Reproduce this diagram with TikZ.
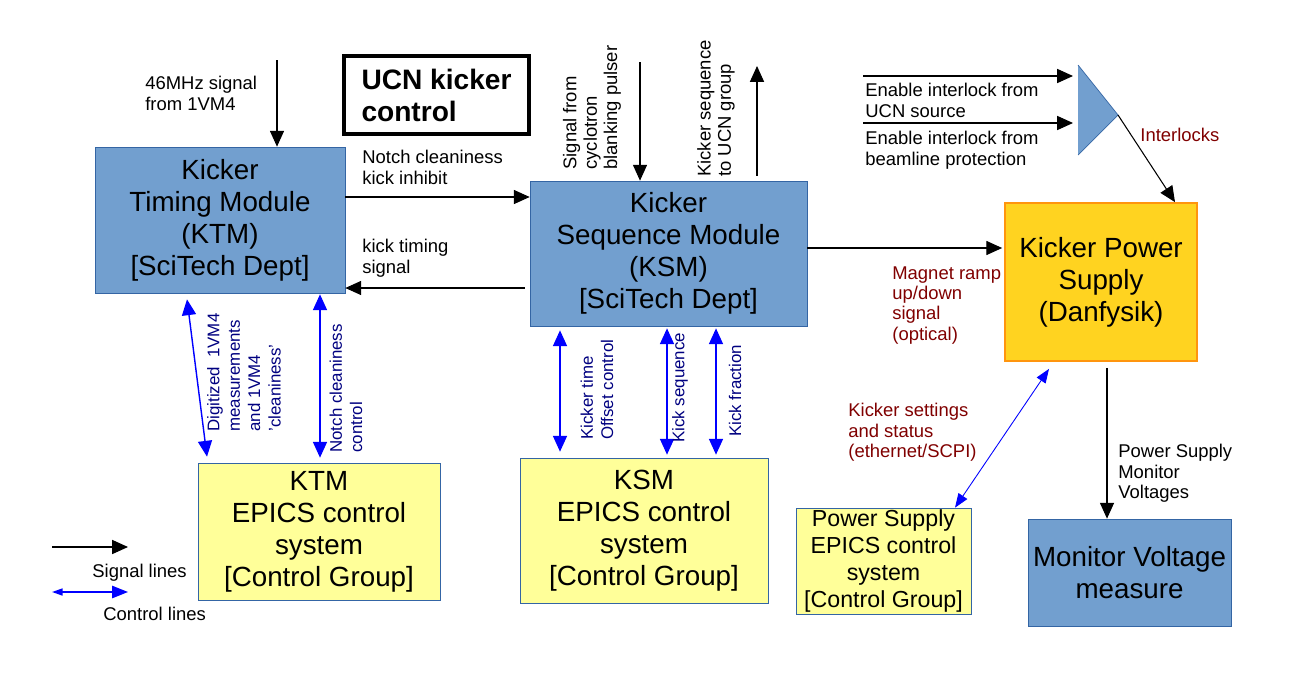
\documentclass[tikz,border=0pt]{standalone}
\usepackage{fontspec}
\setmainfont{Liberation Sans}
\usetikzlibrary{shapes, arrows, arrows.meta, positioning, calc}

\definecolor{boxblue}{HTML}{729FCF}
\definecolor{boxline}{HTML}{3465A4}
\definecolor{psgold}{HTML}{FFD320}
\definecolor{psline}{HTML}{FF950E}
\definecolor{epicsyellow}{HTML}{FFFF99}
\definecolor{labred}{HTML}{800000}
\definecolor{labblue}{HTML}{000080}
\definecolor{ctrlblue}{HTML}{3333FF}

\newcommand{\boxfont}{\fontsize{15.8}{18.2}\selectfont}
\newcommand{\smallboxfont}{\fontsize{13.2}{15.3}\selectfont}
\newcommand{\labfont}{\fontsize{10.5}{11.6}\selectfont}
\newcommand{\ctrlfont}{\fontsize{9.6}{11.6}\selectfont}

\tikzset{
    module/.style = {rectangle, draw=boxline, fill=boxblue, inner sep=0pt, align=center, font=\boxfont},
    epics/.style = {rectangle, draw=boxline, fill=epicsyellow, inner sep=0pt, align=center, font=\boxfont},
    supply/.style = {rectangle, draw=psline, line width=1pt, fill=psgold, inner sep=0pt, align=center, font=\boxfont},
    lab/.style = {inner sep=0pt, align=left, anchor=north west, font=\labfont},
    rotlab/.style = {inner sep=0pt, align=left, anchor=west, rotate=90, font=\labfont},
    ctrllab/.style = {inner sep=0pt, align=left, anchor=west, rotate=90, font=\ctrlfont, text=labblue},
    signal/.style = {-{Triangle[length=9pt, width=8pt]}, line width=0.6pt},
    control/.style = {{Triangle[length=9pt, width=8pt]}-{Triangle[length=9pt, width=8pt]}, draw=ctrlblue, line width=0.8pt, color=blue}
}

\begin{document}
\begin{tikzpicture}[x=0.02cm, y=-0.02cm]
    \useasboundingbox (0,0) rectangle (1300,676);

    % main boxes
    \node [module, minimum width=5.00cm, minimum height=2.92cm] (ktm) at (220,220) {Kicker\\Timing Module\\(KTM)\\{[SciTech Dept]}};
    \node [module, minimum width=5.54cm, minimum height=2.90cm] (ksm) at (668.5,253.5) {Kicker\\Sequence Module\\(KSM)\\{[SciTech Dept]}};
    \node [supply, minimum width=3.84cm, minimum height=3.16cm] (ps) at (1101,282) {Kicker Power\\Supply\\(Danfysik)};
    \node [epics, minimum width=4.84cm, minimum height=2.74cm] (ktmepics) at (319,531.5) {KTM\\EPICS control\\system\\{[Control Group]}};
    \node [epics, minimum width=4.96cm, minimum height=2.90cm] (ksmepics) at (644,530.5) {KSM\\EPICS control\\system\\{[Control Group]}};
    \node [epics, font=\smallboxfont, minimum width=3.50cm, minimum height=2.12cm] (psepics) at (883.5,561) {Power Supply\\EPICS control\\system\\{[Control Group]}};
    \node [module, minimum width=4.06cm, minimum height=2.14cm] (monitor) at (1129.5,572.5) {Monitor Voltage\\measure};
    \node [rectangle, draw, line width=2pt, fill=white, inner sep=0pt, align=left, font=\bfseries\fontsize{16}{18.2}\selectfont,
           minimum width=3.70cm, minimum height=1.56cm] (title) at (436.5,95) {UCN kicker\\control};

    % interlock combiner
    \coordinate (trtop) at (1078,65);
    \coordinate (trbot) at (1078,155);
    \coordinate (trtip) at (1118,115);
    \fill [boxblue] (trtop) -- (trtip) -- (trbot) -- cycle;
    \draw [boxline, line width=0.4pt] (trtop) -- (trtip) -- (trbot);

    % free ends
    \coordinate (in46) at (277,60);
    \coordinate (incyc) at (640,62);
    \coordinate (outucn) at (757,66);
    \coordinate (inucn) at (863,76);
    \coordinate (inbeam) at (863,123);
    \coordinate (legsigA) at (52,547);
    \coordinate (legsigB) at (128,547);
    \coordinate (legctlA) at (52,592);
    \coordinate (legctlB) at (128,592);

    % signal lines
    \draw [signal] (in46) -- (in46 |- ktm.north);
    \draw [signal] (ktm.east |- 0,197) -- (ksm.west |- 0,197);
    \draw [signal] ($(ksm.west |- 0,288)+(-5,0)$) -- (ktm.east |- 0,288);
    \draw [signal] (incyc) -- (incyc |- ksm.north);
    \draw [signal] ($(outucn |- ksm.north)+(0,-5)$) -- (outucn);
    \draw [signal] (ksm.east |- 0,248) -- ($(ps.west |- 0,248)+(-2,0)$);
    \draw [signal] (inucn) -- ($(trtop |- inucn)+(-5,0)$);
    \draw [signal] (inbeam) -- ($(trtop |- inbeam)+(-5,0)$);
    \draw [signal] (trtip) -- (1175,0 |- ps.north);
    \draw [signal] ($(1107,0 |- ps.south)+(0,6)$) -- (1107,0 |- monitor.north);

    % control lines
    \draw [control] ($(187,0 |- ktm.south)+(0,6)$) -- ($(207,0 |- ktmepics.north)+(0,-6)$);
    \draw [control] ($(320,0 |- ktm.south)+(0,1)$) -- ($(320,0 |- ktmepics.north)+(0,-5)$);
    \draw [control] ($(560,0 |- ksm.south)+(0,4)$) -- ($(560,0 |- ksmepics.north)+(0,-6)$);
    \draw [control] ($(667,0 |- ksm.south)+(0,2)$) -- ($(667,0 |- ksmepics.north)+(0,-3)$);
    \draw [control] ($(716,0 |- ksm.south)+(0,2)$) -- ($(716,0 |- ksmepics.north)+(0,-3)$);
    \draw [{Triangle[length=8pt, width=6pt]}-{Triangle[length=8pt, width=6pt]}, draw=ctrlblue, color=blue, line width=0.5pt]
        ($(1049,0 |- ps.south)+(0,7)$) -- (955,0 |- psepics.north);

    % labels
    \node [lab] (l46) at (145,76) {46MHz signal\\from 1VM4};
    \node [lab] (lnotch) at (362,150) {Notch cleaniness\\kick inhibit};
    \node [lab] (ltiming) at (362,239) {kick timing\\signal};
    \node [lab] (lucn) at (865,83) {Enable interlock from\\UCN source};
    \node [lab] (lbeam) at (865,131) {Enable interlock from\\beamline protection};
    \node [lab, text=labred] (linter) at (1140,128) {Interlocks};
    \node [lab, text=labred] (lramp) at (892,266) {Magnet ramp\\up/down\\signal\\(optical)};
    \node [lab, text=labred] (lsettings) at (848,403) {Kicker settings\\and status\\(ethernet/SCPI)};
    \node [lab] (lvolt) at (1118,444) {Power Supply\\Monitor\\Voltages};
    \node [rotlab] (lcyc) at (592,170) {Signal from\\cyclotron\\blanking pulser};
    \node [rotlab] (lseq) at (716,177) {Kicker sequence\\to UCN group};
    \node [ctrllab] (ldig) at (244,432) {Digitized~~1VM4\\measurements\\and 1VM4\\'cleaniness'};
    \node [ctrllab] (lnotchctl) at (346,453) {Notch cleaniness\\control};
    \node [ctrllab] (loffset) at (597,440) {Kicker time\\Offset control};
    \node [ctrllab] (lkseq) at (680,443) {Kick sequence};
    \node [ctrllab] (lkfrac) at (735,437) {Kick fraction};

    % legend
    \draw [signal] (legsigA) -- (legsigB);
    \node [lab] (lsig) at (92,564) {Signal lines};
    \draw [{Triangle[length=6pt, width=4pt]}-{Triangle[length=9pt, width=7pt]}, draw=ctrlblue, color=blue, line width=0.8pt] (legctlA) -- (legctlB);
    \node [lab] (lctl) at (103,607) {Control lines};
\end{tikzpicture}
\end{document}
